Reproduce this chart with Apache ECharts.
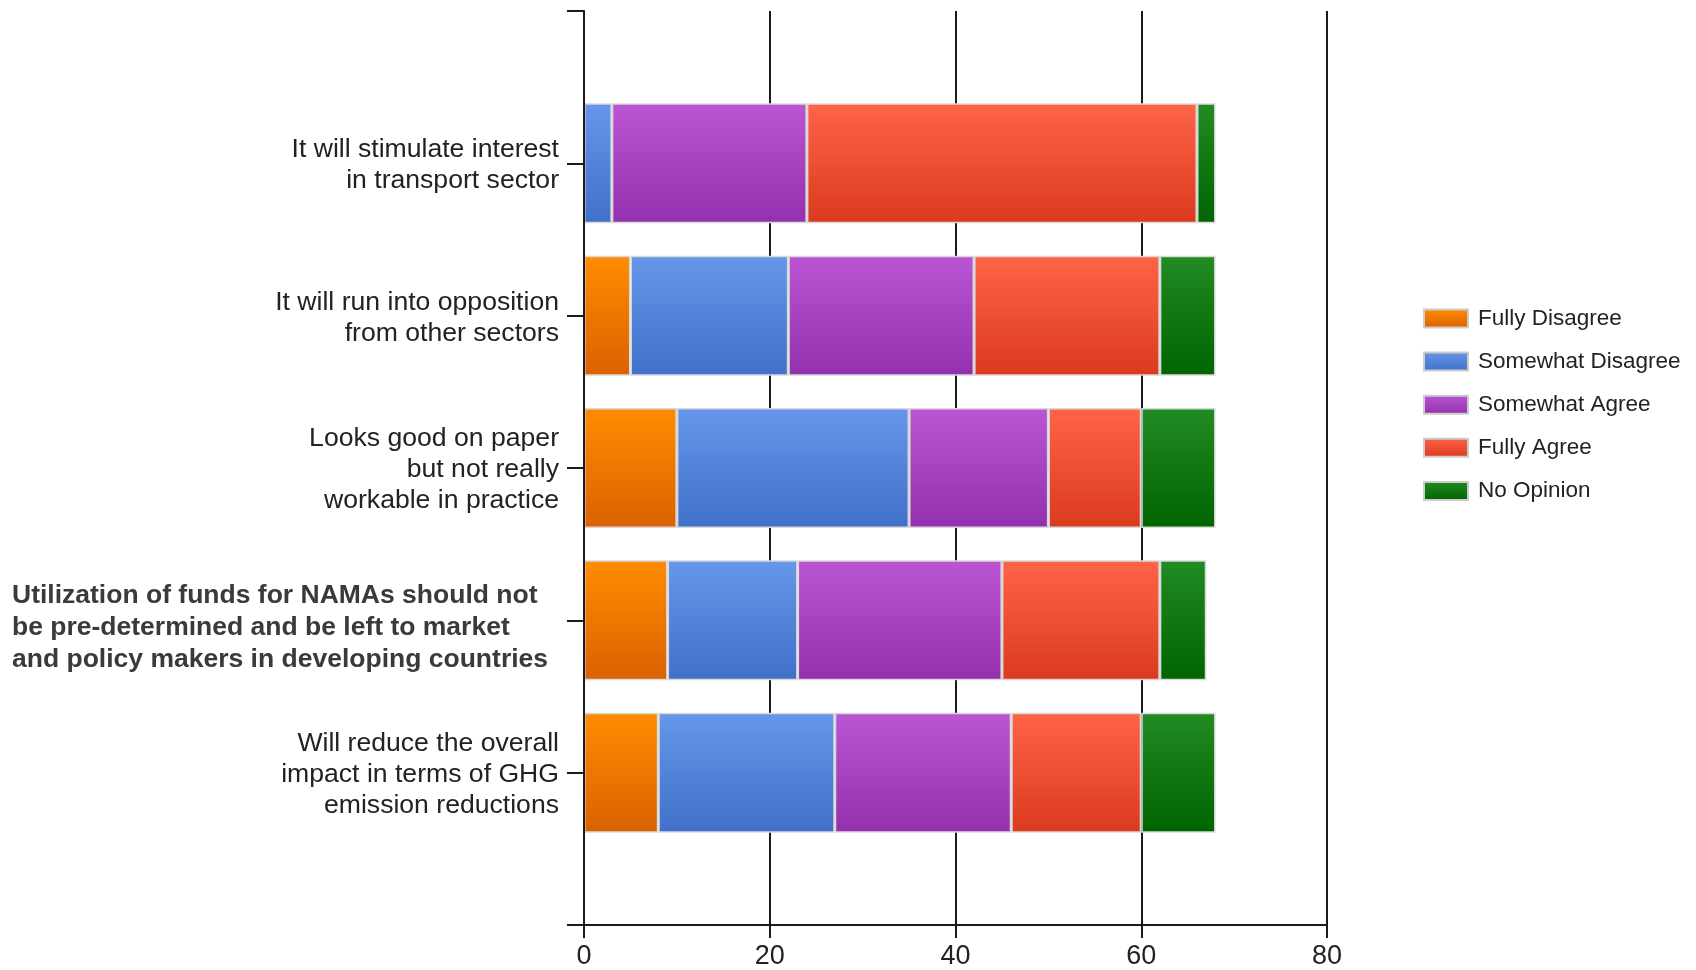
<!DOCTYPE html>
<html>
<head>
<meta charset="utf-8">
<script src="https://cdn.jsdelivr.net/npm/echarts@6/dist/echarts.min.js"></script>
<style>
  html, body { margin: 0; padding: 0; background: #fff; }
  #chart { width: 1696px; height: 970px; }
</style>
</head>
<body>
<div id="chart"></div>
<script>
// Survey statements (top to bottom)
const categories = [
  'It will stimulate interest\nin transport sector',
  'It will run into opposition\nfrom other sectors',
  'Looks good on paper\nbut not really\nworkable in practice',
  'Utilization of funds for NAMAs should not\nbe pre-determined and be left to market\nand policy makers in developing countries',
  'Will reduce the overall\nimpact in terms of GHG\nemission reductions'
];
// Statement shown in bold
const highlighted = 3;

// Number of responses per answer
const fullyDisagree    = [0, 5, 10, 9, 8];
const somewhatDisagree = [3, 17, 25, 14, 19];
const somewhatAgree    = [21, 20, 15, 22, 19];
const fullyAgree       = [42, 20, 10, 17, 14];
const noOpinion        = [2, 6, 8, 5, 8];

const seriesNames = ['Fully Disagree', 'Somewhat Disagree', 'Somewhat Agree', 'Fully Agree', 'No Opinion'];
const xTicks = [0, 20, 40, 60, 80];

const palette = [
  ['#FF8C00', '#D96200'],
  ['#6697EA', '#4070C8'],
  ['#BB55D3', '#9330AD'],
  ['#FF6448', '#DA3A1E'],
  ['#228B22', '#006400']
];

// empty slots above and below the statements leave room at the axis ends
const axisCats = [''].concat(categories, ['']);
const pad = arr => [null].concat(arr, [null]);

const values = [fullyDisagree, somewhatDisagree, somewhatAgree, fullyAgree, noOpinion];

const chart = echarts.init(document.getElementById('chart'), null, { renderer: 'canvas' });

const series = values.map((vals, i) => ({
  name: seriesNames[i],
  type: 'bar',
  stack: 'answers',
  barWidth: 120,
  data: pad(vals),
  itemStyle: {
    color: new echarts.graphic.LinearGradient(0, 0, 0, 1, [
      { offset: 0, color: palette[i][0] },
      { offset: 1, color: palette[i][1] }
    ]),
    borderColor: '#d9d9d9',
    borderWidth: 1.5
  },
  emphasis: { disabled: true }
}));

const labelFont = 'Liberation Sans, Arial, sans-serif';

const option = {
  backgroundColor: '#ffffff',
  animation: false,
  grid: { left: 584, right: 369, top: 11, bottom: 44, containLabel: false },
  legend: {
    orient: 'vertical',
    left: 1418,
    top: 302,
    icon: 'rect',
    itemWidth: 44,
    itemHeight: 18,
    itemGap: 20.1,
    itemStyle: { borderColor: '#cccccc', borderWidth: 2 },
    textStyle: {
      fontFamily: labelFont,
      fontSize: 22.5,
      color: '#222',
      padding: [0, 0, 0, 5]
    },
    data: seriesNames
  },
  xAxis: {
    type: 'value',
    min: xTicks[0],
    max: xTicks[xTicks.length - 1],
    interval: 20,
    z: 1,
    axisLine: { show: true, lineStyle: { color: '#1a1a1a', width: 2 } },
    axisTick: { show: true, length: 13, lineStyle: { color: '#1a1a1a', width: 2 } },
    splitLine: { show: true, lineStyle: { color: '#1a1a1a', width: 2 } },
    axisLabel: {
      margin: 18,
      fontFamily: labelFont,
      fontSize: 27,
      color: '#222'
    }
  },
  yAxis: {
    type: 'category',
    inverse: true,
    boundaryGap: false,
    data: axisCats,
    z: 5,
    axisLine: { show: true, lineStyle: { color: '#1a1a1a', width: 2 } },
    axisTick: { show: true, length: 17, interval: 0, lineStyle: { color: '#1a1a1a', width: 2 } },
    splitLine: { show: false },
    axisLabel: {
      interval: 0,
      margin: 25,
      fontFamily: labelFont,
      fontSize: 26.6,
      lineHeight: 31,
      color: '#222',
      formatter: function (value, idx) {
        if (!value) return '';
        const lines = value.split('\n');
        if (idx - 1 === highlighted) {
          return '{gapL| }\n' + lines.map(l => '{b|' + l + '}').join('\n');
        }
        return '{gapS| }\n' + lines.map(l => '{r|' + l + '}').join('\n');
      },
      rich: {
        gapS: { fontSize: 1, lineHeight: 4 },
        gapL: { fontSize: 1, lineHeight: 15 },
        r: {
          fontFamily: labelFont,
          fontSize: 26.6,
          lineHeight: 31,
          color: '#222'
        },
        b: {
          fontFamily: labelFont,
          fontWeight: 'bold',
          fontSize: 26.5,
          lineHeight: 32,
          color: '#3a3a3a',
          width: 547,
          align: 'left'
        }
      }
    }
  },
  series: series
};

chart.setOption(option);
</script>
</body>
</html>
